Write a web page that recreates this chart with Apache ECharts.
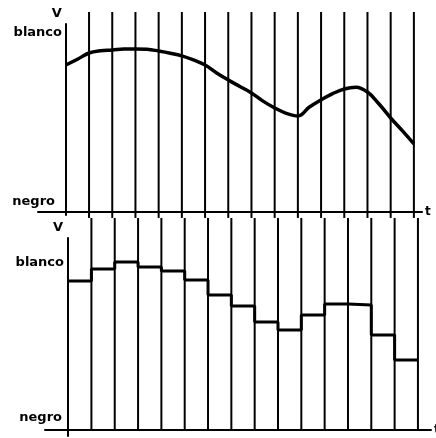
<!DOCTYPE html>
<html>
<head>
<meta charset="utf-8">
<script src="https://cdn.jsdelivr.net/npm/echarts@6/dist/echarts.min.js"></script>
<style>
  html, body { margin: 0; padding: 0; background: #fff; }
  #chart { width: 436px; height: 438px; }
</style>
</head>
<body>
<div id="chart"></div>
<script>
// sampling instants (vertical lines)
const sampleTimes = [0, 1, 2, 3, 4, 5, 6, 7, 8, 9, 10, 11, 12, 13, 14, 15];
// continuous video signal (top), read every half period
const curveTimes = [0, 0.5, 1, 1.5, 2, 2.5, 3, 3.5, 4, 4.5, 5, 5.5, 6, 6.5, 7, 7.5,
  8, 8.5, 9, 9.5, 10, 10.5, 11, 11.5, 12, 12.5, 13, 13.5, 14, 14.5, 15];
const curveValues = [82.1, 85.3, 88.8, 90.1, 90.5, 91.1, 91.1, 90.9, 89.9, 88.7, 87.2, 84.9,
  82.1, 77.6, 73.7, 70.1, 66.5, 61.9, 58.1, 55.1, 53.6, 58.6, 62.6, 66.1, 68.7, 69.7,
  67.0, 60.3, 52.5, 45.4, 38.0];
// sampled and held values (bottom), one per period
const heldValues = [89.2, 96.4, 100.6, 97.6, 95.2, 89.8, 80.8, 74.3, 64.7, 59.9, 68.9, 75.4, 74.9, 56.9, 41.9];
// level labels
const blancoLevel = 100;
const negroTop = 5.5;
const negroBottom = 7.2;

const chart = echarts.init(document.getElementById('chart'));

const font = 'DejaVu Sans';
const black = '#000';

// vertical sampling lines, drawn across the whole panel
const vLines = (top, bottom) => sampleTimes.slice(1).map(t => [t, top, bottom]);
const renderVLine = (params, api) => {
  const p1 = api.coord([api.value(0), api.value(1)]);
  const p2 = api.coord([api.value(0), api.value(2)]);
  return {
    type: 'line',
    shape: { x1: p1[0], y1: p1[1], x2: p2[0], y2: p2[1] },
    style: { stroke: black, lineWidth: 2 }
  };
};

// labels stay at the grid edge, not at the zero axis, so margin is negative
const yLabel = (negro, margin, negroPad) => ({
  show: true,
  customValues: [negro, blancoLevel],
  margin: margin,
  formatter: v => v === blancoLevel ? '{b|blanco}' : '{n|negro}',
  rich: {
    b: { fontFamily: font, fontWeight: 'bold', fontSize: 13, color: black },
    n: { fontFamily: font, fontWeight: 'bold', fontSize: 13, color: black, padding: [0, negroPad, 0, 0] }
  }
});

const heldData = heldValues.map((v, i) => [sampleTimes[i], v]);
heldData.push([sampleTimes[sampleTimes.length - 1], heldValues[heldValues.length - 1]]);

const option = {
  backgroundColor: '#fff',
  animation: false,
  grid: [
    { left: 38, right: 14, top: 24, bottom: 223, containLabel: false, outerBoundsMode: 'none' },
    { left: 45, right: 5, top: 238, bottom: 2, containLabel: false, outerBoundsMode: 'none' }
  ],
  xAxis: [
    {
      gridIndex: 0, type: 'value', min: -1.2, max: 15.35,
      name: 't', nameLocation: 'end', nameGap: 3,
      nameTextStyle: { fontFamily: font, fontWeight: 'bold', fontSize: 12, color: black },
      axisLine: { onZero: true, lineStyle: { color: black, width: 2 } },
      axisTick: { show: false }, axisLabel: { show: false }, splitLine: { show: false }
    },
    {
      gridIndex: 1, type: 'value', min: -0.99, max: 15.56,
      name: 't', nameLocation: 'end', nameGap: 3,
      nameTextStyle: { fontFamily: font, fontWeight: 'bold', fontSize: 12, color: black },
      axisLine: { onZero: true, lineStyle: { color: black, width: 2 } },
      axisTick: { show: false }, axisLabel: { show: false }, splitLine: { show: false }
    }
  ],
  yAxis: [
    {
      gridIndex: 0, type: 'value', min: -1.7, max: 105,
      name: 'V', nameLocation: 'end', nameGap: 4,
      nameTextStyle: { fontFamily: font, fontWeight: 'bold', fontSize: 13, color: black, align: 'right', padding: [0, 4, 0, 0] },
      axisLine: { onZero: true, lineStyle: { color: black, width: 2 } },
      axisTick: { show: false }, splitLine: { show: false },
      axisLabel: yLabel(negroTop, -24, 7)
    },
    {
      gridIndex: 1, type: 'value', min: -3.6, max: 115,
      name: 'V', nameLocation: 'end', nameGap: 4,
      nameTextStyle: { fontFamily: font, fontWeight: 'bold', fontSize: 13, color: black, align: 'right', padding: [0, 5, 0, 0] },
      axisLine: { onZero: true, lineStyle: { color: black, width: 2 } },
      axisTick: { show: false }, splitLine: { show: false },
      axisLabel: yLabel(negroBottom, -19, 2)
    }
  ],
  series: [
    {
      type: 'custom', xAxisIndex: 0, yAxisIndex: 0, clip: false, silent: true,
      renderItem: renderVLine, data: vLines(111.7, -3.35)
    },
    {
      type: 'custom', xAxisIndex: 1, yAxisIndex: 1, clip: false, silent: true,
      renderItem: renderVLine, data: vLines(127, 0)
    },
    {
      type: 'line', xAxisIndex: 0, yAxisIndex: 0, smooth: 0.4, symbol: 'none',
      lineStyle: { color: black, width: 3.5 },
      data: curveTimes.map((t, i) => [t, curveValues[i]])
    },
    {
      type: 'line', xAxisIndex: 1, yAxisIndex: 1, step: 'end', symbol: 'none',
      lineStyle: { color: black, width: 3 },
      data: heldData
    }
  ]
};

chart.setOption(option);
</script>
</body>
</html>
